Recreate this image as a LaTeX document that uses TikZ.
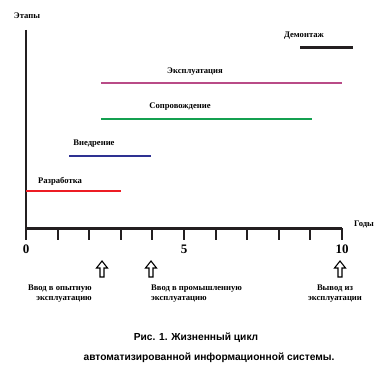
\documentclass[tikz,border=0pt]{standalone}
\usepackage{fontspec}
\setmainfont{Liberation Serif}
\newfontfamily\capfont{Liberation Sans}
\begin{document}
\begin{tikzpicture}[x=1pt,y=-1pt,
  lbl/.style={font=\fontsize{8.6}{10}\selectfont\bfseries, inner sep=0pt},
  num/.style={font=\fontsize{13}{15}\selectfont\bfseries, inner sep=0pt},
  bar/.style={line width=2pt},
  uparrow/.style={draw=black, line width=1.1pt, fill=white},
  caption/.style={font=\capfont\fontsize{10.2}{12}\selectfont\bfseries, inner sep=0pt}]
\definecolor{cred}{RGB}{237,28,36}
\definecolor{cblue}{RGB}{46,49,146}
\definecolor{cgreen}{RGB}{20,160,80}
\definecolor{cpurple}{RGB}{185,75,135}
\definecolor{cblack}{RGB}{35,31,32}
\useasboundingbox (0,0) rectangle (387,371);
% axes
\coordinate (o) at (26,228);
\coordinate (ytop) at (26,30);
\coordinate (xend) at (342,228);
\draw[line width=1.8pt, cblack] (ytop) -- (o);
\draw[line width=3pt, cblack] (o) -- (xend);
\foreach \i in {0,...,10} {
  \coordinate (t\i) at ({26+31.6*\i},228);
  \draw[line width=2pt, cblack] (t\i) -- ++(0,12);
}
\node[lbl] (etapy) at (27,16) {Этапы};
\node[lbl] (gody) at (364,224) {Годы};
\node[num] (n0) at (26,249) {0};
\node[num] (n5) at (184,249) {5};
\node[num] (n10) at (342,249) {10};
% bars
\coordinate (r1) at (26,191); \coordinate (r2) at (121,191);
\draw[bar, cred, line width=2.8pt] (r1) -- (r2);
\node[lbl] (razr) at (60,181) {Разработка};
\coordinate (b1) at (69,156); \coordinate (b2) at (151,156);
\draw[bar, cblue] (b1) -- (b2);
\node[lbl] (vnedr) at (94,144) {Внедрение};
\coordinate (g1) at (101,119); \coordinate (g2) at (312,119);
\draw[bar, cgreen] (g1) -- (g2);
\node[lbl] (sopr) at (180,107) {Сопровождение};
\coordinate (p1) at (101,83.5); \coordinate (p2) at (342,83.5);
\draw[bar, cpurple] (p1) -- (p2);
\node[lbl] (ekspl) at (195,72) {Эксплуатация};
\coordinate (d1) at (300,47.5); \coordinate (d2) at (353,47.5);
\draw[bar, cblack, line width=2.8pt] (d1) -- (d2);
\node[lbl] (demont) at (304,36) {Демонтаж};
% arrows
\foreach \x/\n in {102/a1,151/a2,340/a3} {
  \draw[uparrow] (\x,261) -- (\x+5.5,268) -- (\x+2,268) -- (\x+2,277) -- (\x-2,277) -- (\x-2,268) -- (\x-5.5,268) -- cycle;
}
\node[lbl, anchor=north east, align=right] (l1) at (92,285) {Ввод в опытную\\эксплуатацию};
\node[lbl, anchor=north west, align=left] (l2) at (151,285) {Ввод в промышленную\\эксплуатацию};
\node[lbl, anchor=north, align=center] (l3) at (335,285) {Вывод из\\эксплуатации};
\node[caption] (cap1) at (196,338) {Рис. 1. Жизненный цикл};
\node[caption] (cap2) at (209,358) {автоматизированной информационной системы.};
\end{tikzpicture}
\end{document}
